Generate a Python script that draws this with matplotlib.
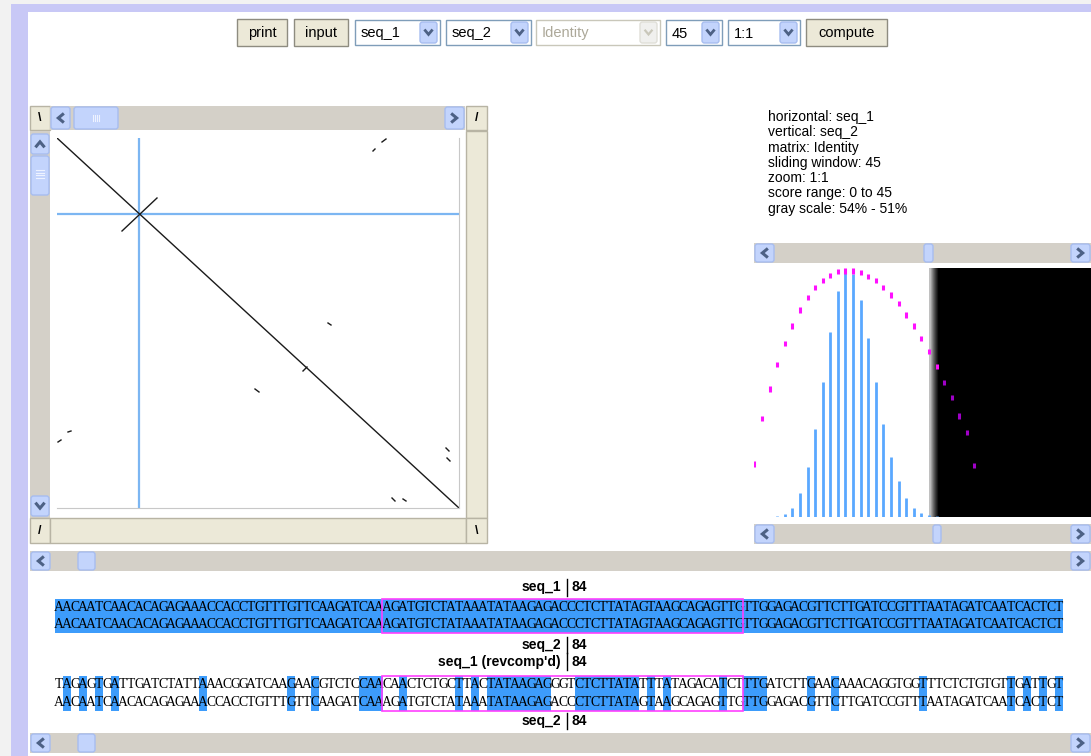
import matplotlib.pyplot as plt
from matplotlib.patches import Rectangle, FancyBboxPatch

W, H = 1091, 756

# ---- data ----
seq1_len, seq2_len = 402, 370
cursor_x, cursor_y = 82, 76
# short match segments in the dot plot (x0, y0, x1, y1), sequence positions
seg_x0 = [0, 65, 316, 325, 271, 246, 198, 1, 11, 389, 390, 335, 346]
seg_y0 = [0, 93, 13, 4, 185, 233, 251, 304, 294, 310, 320, 360, 361]
seg_x1 = [402, 100, 318, 329, 274, 250, 202, 4, 14, 392, 393, 338, 349]
seg_y1 = [370, 60, 11, 1, 187, 229, 254, 302, 293, 313, 323, 363, 363]

hist_scores = list(range(3, 25))
hist_counts = [0.7, 3.3, 9.3, 24.3, 50, 88, 135, 185, 225.7, 246, 243.3,
               217.3, 179, 135, 93.3, 60, 35.7, 19.3, 9.3, 4.3, 2, 0.7]
curve_scores = list(range(0, 30))
curve_vals = [53, 98.7, 128, 152.7, 173.7, 191, 207, 219.3, 229.3, 236.7,
              241.7, 245.3, 246, 246, 244.3, 240.3, 236.7, 229.3, 222, 213.3,
              202, 191, 178.7, 165.3, 150.3, 134.3, 119.7, 101, 84.7, 51.3]
score_max = 45
gray_lo, gray_hi = 51, 54  # percent

info_lines = ["horizontal: seq_1", "vertical: seq_2", "matrix: Identity",
              "sliding window: 45", "zoom: 1:1", "score range: 0 to 45",
              "gray scale: 54% - 51%"]

seq_1 = ("AACAATCAACACAGAGAAACCACCTGTTTGTTCAAGATCAAAGATGTCTATAAATATAAGAGA"
         "CCCTCTTATAGTAAGCAGAGTTGTTGGAGACGTTCTTGATCCGTTTAATAGATCAATCACTCT")
seq_2 = seq_1
seq_1_rc = ("TAGAGTGATTGATCTATTAAACGGATCAAGAACGTCTCCAACAACTCTGCTTACTATAAGAGG"
            "GTCTCTTATATTTATAGACATCTTTGATCTTGAACAAACAGGTGGTTTCTCTGTGTTGATTGT")
position = 84
win_start, win_len = 41, 45

# ---- colours ----
LAV = '#c8c8f6'
BEIGE = '#ece9d8'
TRACK = '#d4d0c8'
BTN = '#c3d4fc'
BTN_EDGE = '#a7bdf0'
ARROW = '#4d6185'
HIL = '#3d9cfb'
UI_FONT = 'Liberation Sans'

fig = plt.figure(figsize=(W / 100, H / 100), dpi=100)
fig.patch.set_facecolor('white')
ax = fig.add_axes([0, 0, 1, 1])
ax.set_xlim(0, W)
ax.set_ylim(H, 0)
ax.axis('off')


def px_axes(x0, y0, x1, y1):
    return fig.add_axes([x0 / W, 1 - y1 / H, (x1 - x0) / W, (y1 - y0) / H])


def rect(x0, y0, x1, y1, fc, ec='none', lw=1, z=1):
    ax.add_patch(Rectangle((x0, y0), x1 - x0, y1 - y0, facecolor=fc,
                           edgecolor=ec, lw=lw, zorder=z))


def rbox(x0, y0, x1, y1, fc=BTN, ec=BTN_EDGE, z=3):
    ax.add_patch(FancyBboxPatch((x0, y0), x1 - x0, y1 - y0,
                                boxstyle="round,pad=0,rounding_size=2.5",
                                facecolor=fc, edgecolor=ec, lw=1, zorder=z))


def chevron(cx, cy, d, color=ARROW, s=3.6, lw=2.2):
    if d == 'left':
        xs, ys = [cx + s * 0.6, cx - s * 0.6, cx + s * 0.6], [cy - s, cy, cy + s]
    elif d == 'right':
        xs, ys = [cx - s * 0.6, cx + s * 0.6, cx - s * 0.6], [cy - s, cy, cy + s]
    elif d == 'up':
        xs, ys = [cx - s, cx, cx + s], [cy + s * 0.6, cy - s * 0.6, cy + s * 0.6]
    else:
        xs, ys = [cx - s, cx, cx + s], [cy - s * 0.6, cy + s * 0.6, cy - s * 0.6]
    ax.plot(xs, ys, color=color, lw=lw, zorder=5, solid_joinstyle='miter')


def arrow_btn(x0, y0, x1, y1, d):
    rbox(x0, y0, x1, y1)
    chevron((x0 + x1) / 2, (y0 + y1) / 2, d)


def hscroll(x0, x1, y0, y1, t0, t1, grip=False):
    rect(x0, y0, x1, y1, TRACK, z=2)
    arrow_btn(x0 + 1, y0 + 1, x0 + 20, y1 - 1, 'left')
    arrow_btn(x1 - 20, y0 + 1, x1 - 1, y1 - 1, 'right')
    rbox(t0, y0 + 1, t1, y1 - 1)
    if grip:
        cx = (t0 + t1) / 2
        for k in range(-2, 2):
            ax.plot([cx + k * 2 + 1, cx + k * 2 + 1], [(y0 + y1) / 2 - 3, (y0 + y1) / 2 + 3],
                    color='#eef3ff', lw=0.8, zorder=5)


def corner(x0, y0, x1, y1, glyph):
    rect(x0, y0, x1, y1, BEIGE, ec='#b8b4a4', z=2)
    ax.text((x0 + x1) / 2, (y0 + y1) / 2, glyph, ha='center', va='center',
            fontsize=9, fontweight='bold', family=UI_FONT, zorder=5)


# ---- window chrome ----
rect(0, 0, W, 4, '#f2f2f2', z=0)
rect(0, 4, W, 12, LAV, z=0)
rect(11, 4, 28, H, LAV, z=0)
rect(0, 4, 11, H, '#f2f2f2', z=0)

# ---- toolbar ----
ty0, ty1 = 19, 46
for label, x0, x1 in [('print', 237, 287), ('input', 294, 348), ('compute', 806, 887)]:
    rect(x0, ty0, x1, ty1, BEIGE, ec='#8e8c80', z=2)
    ax.text((x0 + x1) / 2, (ty0 + ty1) / 2 + 0.5, label, ha='center', va='center',
            fontsize=10.5, family=UI_FONT, zorder=5)
for label, x0, x1, on in [('seq_1', 355, 440, True), ('seq_2', 446, 531, True),
                          ('Identity', 536, 660, False), ('45', 666, 722, True),
                          ('1:1', 728, 800, True)]:
    rect(x0, ty0 + 1, x1, ty1 - 1, 'white', ec='#7f9db9' if on else '#c9c7ba', z=2)
    ax.text(x0 + 6, (ty0 + ty1) / 2 + 1, label, ha='left', va='center', fontsize=10.5,
            family=UI_FONT, color='black' if on else '#aca899', zorder=5)
    if on:
        rbox(x1 - 20, ty0 + 3, x1 - 3, ty1 - 3)
        chevron(x1 - 11.5, (ty0 + ty1) / 2, 'down', s=3.2, lw=2)
    else:
        rbox(x1 - 20, ty0 + 3, x1 - 3, ty1 - 3, fc='#f0f0ee', ec='#e0dfd8')
        chevron(x1 - 11.5, (ty0 + ty1) / 2, 'down', color='#c9c7ba', s=3.2, lw=1.6)

# ---- dot plot frame ----
corner(30, 106, 50, 130, '\\')
hscroll(50, 465, 106, 130, 74, 118, grip=True)
corner(466, 106, 487, 130, '/')
rect(30, 131, 50, 518, TRACK, z=2)
arrow_btn(31, 134, 49, 154, 'up')
rbox(31, 156, 49, 195)
for k in range(4):
    ax.plot([36, 44], [170 + k * 2.5, 170 + k * 2.5], color='#eef3ff', lw=0.8, zorder=5)
arrow_btn(31, 496, 49, 516, 'down')
rect(466, 131, 487, 518, BEIGE, ec='#b8b4a4', z=2)
corner(30, 518, 50, 543, '/')
rect(50, 518, 466, 543, BEIGE, ec='#b8b4a4', z=2)
corner(466, 518, 487, 543, '\\')

dax = px_axes(57, 138, 459, 508)
dax.set_xlim(0, seq1_len)
dax.set_ylim(seq2_len, 0)
dax.set_xticks([])
dax.set_yticks([])
for s in ['top', 'left']:
    dax.spines[s].set_visible(False)
for s in ['right', 'bottom']:
    dax.spines[s].set_color('#c8c8c8')
dax.axhline(cursor_y, color='#7cb6f2', lw=1.6, zorder=1)
dax.axvline(cursor_x, color='#7cb6f2', lw=1.6, zorder=1)
for a, b, c, d in zip(seg_x0, seg_y0, seg_x1, seg_y1):
    dax.plot([a, c], [b, d], color='#1a1a1a', lw=1, zorder=2)

# ---- info text ----
for i, line in enumerate(info_lines):
    ax.text(768, 117 + i * 15.3, line, ha='left', va='center', fontsize=10,
            family=UI_FONT, zorder=5)

# ---- histogram panel ----
hscroll(754, 1091, 243, 263, 924, 933)
hscroll(754, 1091, 524, 544, 933, 941)
hax = px_axes(754, 268, 1091, 517)
hax.set_xlim(-0.05, 44.35)
hax.set_ylim(0, 249)
hax.axis('off')
g0 = score_max * gray_lo / 100
g1 = score_max * gray_hi / 100
hax.imshow([[0.75, 0.45, 0.2, 0.0]], cmap='gray', vmin=0, vmax=1, aspect='auto',
           extent=[g0, g1, 0, 249], interpolation='bilinear', zorder=0)
hax.add_patch(Rectangle((g1, 0), 50, 249, facecolor='black', zorder=0))
hax.vlines(hist_scores, 0, hist_counts, color='#5aa8ff', lw=2, zorder=2)
cols = ['#ff10ff' if s < g1 else '#a000c8' for s in curve_scores]
hax.scatter(curve_scores, curve_vals, marker='|', s=14, linewidths=2.2, c=cols, zorder=3)

# ---- wide scroll bars ----
hscroll(30, 1091, 551, 571, 78, 95)
hscroll(30, 1091, 733, 753, 78, 95)

# ---- alignment blocks ----
cw, sx = 8, 55
SEQ_FONT = 'Liberation Serif'


def label(y, name, y0, y1):
    ax.text(561, y, name, ha='right', va='center', fontsize=10, fontweight='bold',
            family=UI_FONT, zorder=5)
    ax.text(572, y, str(position), ha='left', va='center', fontsize=10,
            fontweight='bold', family=UI_FONT, zorder=5)
    ax.plot([567, 567], [y0, y1], color='black', lw=1, zorder=5)


def block(top, bottom, yb0, yb1):
    ya, yb = yb0 + 8.5, yb1 - 9
    for i, (a, b) in enumerate(zip(top, bottom)):
        if a == b:
            rect(sx + i * cw, yb0, sx + (i + 1) * cw, yb1, HIL, z=2)
        ax.text(sx + i * cw + cw / 2, ya, a, ha='center', va='center', fontsize=9.8,
                family=SEQ_FONT, zorder=5)
        ax.text(sx + i * cw + cw / 2, yb, b, ha='center', va='center', fontsize=9.8,
                family=SEQ_FONT, zorder=5)
    rect(sx + win_start * cw - 1, yb0, sx + (win_start + win_len) * cw, yb1,
         'none', ec='#ff40ff', lw=1.2, z=6)


label(587, 'seq_1', 579, 596)
block(seq_1, seq_2, 599, 633)
label(645, 'seq_2', 637, 653)
label(662, "seq_1 (revcomp'd)", 653, 670)
block(seq_1_rc, seq_2, 676, 711)
label(721, 'seq_2', 713, 729)

fig.savefig('out.png', dpi=100, facecolor=fig.get_facecolor())
